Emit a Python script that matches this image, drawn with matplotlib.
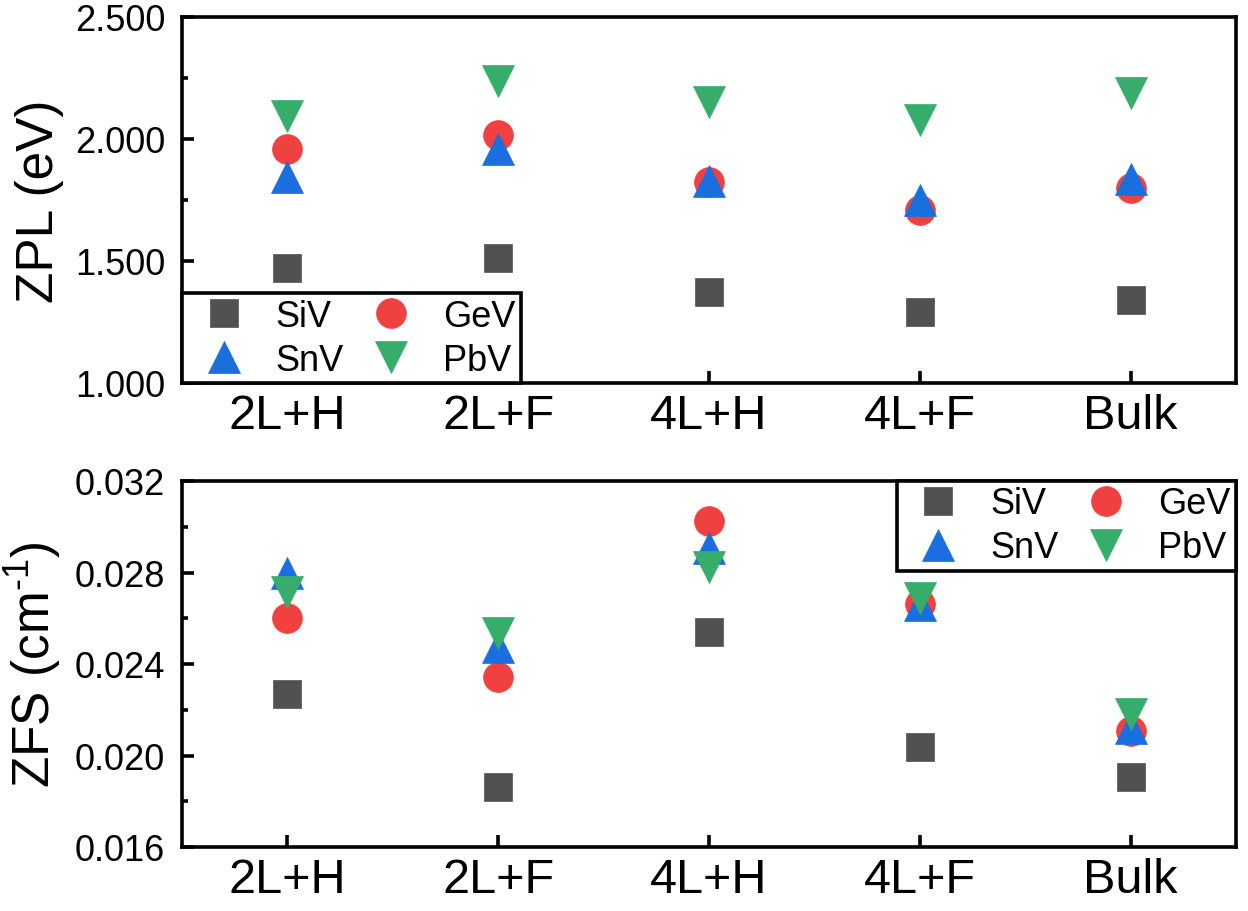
"""ZPL and ZFS of group-IV vacancy centres for different slab terminations."""

import matplotlib
matplotlib.use("Agg")
import matplotlib.pyplot as plt
from matplotlib.ticker import MultipleLocator, FormatStrFormatter

plt.rcParams['font.family'] = ['Liberation Sans', 'DejaVu Sans']
plt.rcParams['mathtext.fontset'] = 'custom'
plt.rcParams['mathtext.rm'] = 'Liberation Sans'

# data
structures = ["2L+H", "2L+F", "4L+H", "4L+F", "Bulk"]
centres = ["SiV", "GeV", "SnV", "PbV"]

zpl_siv = [1.473, 1.514, 1.371, 1.289, 1.340]
zpl_gev = [1.959, 2.018, 1.824, 1.707, 1.801]
zpl_snv = [1.844, 1.961, 1.828, 1.750, 1.836]
zpl_pbv = [2.094, 2.238, 2.152, 2.078, 2.189]

zfs_siv = [0.02267, 0.01864, 0.02538, 0.02037, 0.01906]
zfs_gev = [0.02603, 0.02343, 0.03025, 0.02662, 0.02105]
zfs_snv = [0.02800, 0.02474, 0.02907, 0.02658, 0.02120]
zfs_pbv = [0.02713, 0.02536, 0.02824, 0.02689, 0.02181]

# global style
colors = {"SiV": "#515151", "GeV": "#F14040", "SnV": "#1A6FDF", "PbV": "#37AD6B"}
markers = {"SiV": "s", "GeV": "o", "SnV": "^", "PbV": "v"}
msizes = {"SiV": 19.5, "GeV": 21.5, "SnV": 23.5, "PbV": 23.5}
spine_w = 2.6


def style_axes(ax, ylim, major, minor, fmt, ylabel):
    ax.set_xlim(0.5, 5.5)
    ax.set_ylim(*ylim)
    ax.set_xticks(range(1, len(structures) + 1))
    ax.set_xticklabels(structures)
    ax.yaxis.set_major_locator(MultipleLocator(major))
    ax.yaxis.set_minor_locator(MultipleLocator(minor))
    ax.yaxis.set_major_formatter(FormatStrFormatter(fmt))
    ax.tick_params(axis='both', which='major', direction='in', length=8.5,
                   width=spine_w, labelsize=26)
    ax.tick_params(axis='x', which='major', labelsize=35, pad=7)
    ax.tick_params(axis='y', which='major', pad=12)
    ax.tick_params(axis='y', which='minor', direction='in', length=4.5, width=spine_w)
    ax.tick_params(axis='x', which='minor', bottom=False)
    for sp in ax.spines.values():
        sp.set_linewidth(spine_w)
    ax.set_ylabel(ylabel, fontsize=37, labelpad=8)


def plot_panel(ax, series, legend_loc):
    x = range(1, len(structures) + 1)
    handles = {}
    for name in centres:
        line, = ax.plot(x, series[name], linestyle='none', marker=markers[name],
                        ms=msizes[name], color=colors[name], mec=colors[name],
                        mew=0.5, label=name)
        handles[name] = line
    order = ["SiV", "SnV", "GeV", "PbV"]
    leg = ax.legend([handles[n] for n in order], order, loc=legend_loc, ncol=2,
                    fontsize=26, frameon=True, fancybox=False, framealpha=1,
                    edgecolor='black', borderpad=0.15, borderaxespad=0,
                    handlelength=2.0, handletextpad=0.45, columnspacing=0.3,
                    labelspacing=0.25)
    leg.get_frame().set_linewidth(spine_w)
    leg.set_zorder(5)


fig = plt.figure(figsize=(12.48, 9.12), dpi=100)
W, H = 1248.0, 912.0
ax1 = fig.add_axes([182 / W, 1 - 384 / H, (1236 - 182) / W, (384 - 18) / H])
ax2 = fig.add_axes([182 / W, 1 - 848 / H, (1236 - 182) / W, (848 - 482) / H])

plot_panel(ax1, {"SiV": zpl_siv, "GeV": zpl_gev, "SnV": zpl_snv, "PbV": zpl_pbv},
           "lower left")
style_axes(ax1, (1.0, 2.5), 0.5, 0.25, "%.3f", "ZPL (eV)")

plot_panel(ax2, {"SiV": zfs_siv, "GeV": zfs_gev, "SnV": zfs_snv, "PbV": zfs_pbv},
           "upper right")
style_axes(ax2, (0.016, 0.032), 0.004, 0.002, "%.3f", r"ZFS (cm$^{\text{-1}}$)")

fig.savefig("out.png", dpi=100)
